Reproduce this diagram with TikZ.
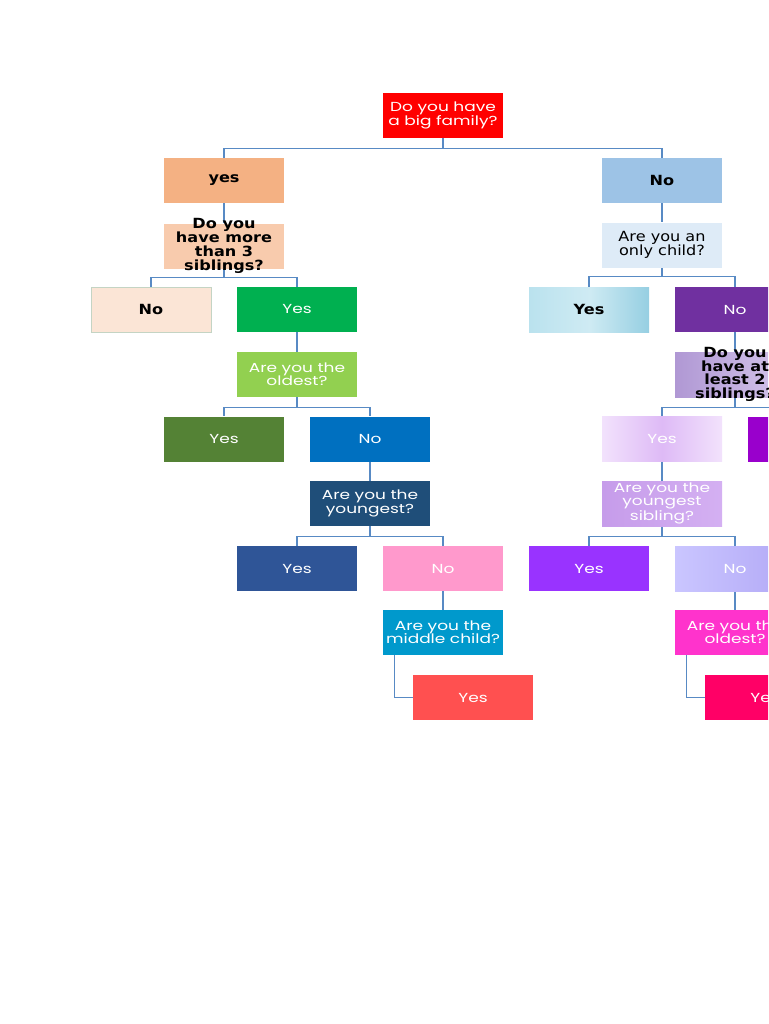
\documentclass[tikz,border=0pt]{standalone}
\usepackage{fontspec}
\usetikzlibrary{backgrounds}
\newfontfamily\geofont[FakeStretch=1.3]{Poppins}
\newfontfamily\plainfont[FakeStretch=1.15]{DejaVu Sans}

\definecolor{linkblue}{RGB}{88,138,196}
\definecolor{peach}{RGB}{244,177,131}
\definecolor{skyblue}{RGB}{157,195,230}
\definecolor{lightpeach}{RGB}{248,203,173}
\definecolor{paleblue}{RGB}{222,235,247}
\definecolor{palepeach}{RGB}{251,229,214}
\definecolor{grassgreen}{RGB}{0,176,80}
\definecolor{plum}{RGB}{112,48,160}
\definecolor{lime}{RGB}{146,208,80}
\definecolor{olive}{RGB}{84,130,53}
\definecolor{ocean}{RGB}{0,112,192}
\definecolor{violet}{RGB}{153,0,204}
\definecolor{navy}{RGB}{31,78,121}
\definecolor{denim}{RGB}{47,85,151}
\definecolor{rose}{RGB}{255,153,204}
\definecolor{grape}{RGB}{153,51,255}
\definecolor{teal}{RGB}{0,153,204}
\definecolor{magenta}{RGB}{255,51,204}
\definecolor{coral}{RGB}{255,80,80}
\definecolor{hotpink}{RGB}{255,0,102}
\definecolor{bubbleA}{RGB}{186,226,238}
\definecolor{bubbleB}{RGB}{150,207,226}
\definecolor{lilacA}{RGB}{176,152,212}
\definecolor{lilacB}{RGB}{214,200,236}
\definecolor{mauveA}{RGB}{198,156,234}
\definecolor{mauveB}{RGB}{212,176,242}
\definecolor{mistA}{RGB}{242,226,252}
\definecolor{mistB}{RGB}{222,186,246}
\definecolor{periA}{RGB}{202,198,255}
\definecolor{periB}{RGB}{178,168,246}

\begin{document}
\begin{tikzpicture}[x=0.75pt, y=-0.75pt,
    box/.style={rectangle, minimum width=90pt, minimum height=33.75pt, inner sep=1pt,
        align=center, text=white, font=\geofont\fontsize{9.8}{10}\selectfont},
    dark/.style={box, text=black, font=\plainfont\fontsize{10.5}{10.5}\selectfont},
    heavy/.style={box, text=black, font=\plainfont\bfseries\fontsize{10.5}{10.5}\selectfont},
    tall/.style={heavy, inner ysep=-5pt, font=\plainfont\bfseries\fontsize{10.5}{10.3}\selectfont},
    link/.style={draw=linkblue, line width=0.9pt}]

    \useasboundingbox (0,0) rectangle (768,1024);
    \clip (0,0) rectangle (768,1024);

    % Top
    \node[box, fill=red] (root) at (443,115.5) {Do you have\\a big family?};
    \node[heavy, fill=peach] (yesA) at (224,180.5) {yes};
    \node[heavy, fill=skyblue] (noA) at (662,180.5) {No};

    % Left branch
    \node[tall, fill=lightpeach] (more) at (224,246) {Do you\\have more\\than 3\\siblings?};
    \node[heavy, fill=palepeach, draw=green!15!gray!40] (noB) at (151,309.5) {No};
    \node[box, fill=grassgreen] (yesB) at (297,309.5) {Yes};
    \node[box, fill=lime] (oldest) at (297,374.5) {Are you the\\oldest?};
    \node[box, fill=olive] (yesD) at (224,439) {Yes};
    \node[box, fill=ocean] (noD) at (370,439) {No};
    \node[box, fill=navy] (young) at (370,503.5) {Are you the\\youngest?};
    \node[box, fill=denim] (yesF) at (297,568.5) {Yes};
    \node[box, fill=rose] (noF) at (443,568.5) {No};
    \node[box, fill=teal] (middle) at (443,632.5) {Are you the\\middle child?};
    \node[box, fill=coral] (yesH) at (473,697.5) {Yes};

    % Right branch
    \node[dark, fill=paleblue] (only) at (662,245) {Are you an\\only child?};
    \node[heavy, left color=bubbleA, right color=bubbleB, middle color=bubbleA!70!white] (yesC) at (589,309.5) {Yes};
    \node[box, fill=plum] (noC) at (735,309.5) {No};
    \node[tall, left color=lilacA, right color=lilacB] (least) at (735,374.5)
        {Do you\\have at\\least 2\\siblings?};
    \node[box, left color=mistA, right color=mistA, middle color=mistB] (yesE) at (662,439) {Yes};
    \node[box, fill=violet] (endE) at (808,439) {};
    \node[box, left color=mauveA, right color=mauveB] (youngsib) at (662,503.5)
        {Are you the\\youngest\\sibling?};
    \node[box, fill=grape] (yesG) at (589,568.5) {Yes};
    \node[box, left color=periA, right color=periB] (noG) at (735,568.5) {No};
    \node[box, fill=magenta] (oldestB) at (735,632.5) {Are you the\\oldest?};
    \node[box, fill=hotpink] (yesI) at (765,697.5) {Yes};

    % Connectors
    \begin{scope}[on background layer]
    \draw[link] (root.south) -- ++(0,10) -| (yesA.north);
    \draw[link] (root.south) -- ++(0,10) -| (noA.north);
    \draw[link] (yesA) -- (more);
    \draw[link] (noA) -- (only);
    \draw[link] (more.south) -- ++(0,9) -| (noB.north);
    \draw[link] (more.south) -- ++(0,9) -| (yesB.north);
    \draw[link] (only.south) -- ++(0,9) -| (yesC.north);
    \draw[link] (only.south) -- ++(0,9) -| (noC.north);
    \draw[link] (yesB) -- (oldest);
    \draw[link] (noC) -- (least);
    \draw[link] (oldest.south) -- ++(0,10) -| (yesD.north);
    \draw[link] (oldest.south) -- ++(0,10) -| (noD.north);
    \draw[link] (least.south) -- ++(0,10) -| (yesE.north);
    \draw[link] (least.south) -- ++(0,10) -| (endE.north);
    \draw[link] (noD) -- (young);
    \draw[link] (yesE) -- (youngsib);
    \draw[link] (young.south) -- ++(0,10) -| (yesF.north);
    \draw[link] (young.south) -- ++(0,10) -| (noF.north);
    \draw[link] (youngsib.south) -- ++(0,10) -| (yesG.north);
    \draw[link] (youngsib.south) -- ++(0,10) -| (noG.north);
    \draw[link] (noF) -- (middle);
    \draw[link] (noG) -- (oldestB);
    \draw[link] ([xshift=9pt]middle.south west) |- (yesH.west);
    \draw[link] ([xshift=9pt]oldestB.south west) |- (yesI.west);
    \end{scope}
\end{tikzpicture}
\end{document}
